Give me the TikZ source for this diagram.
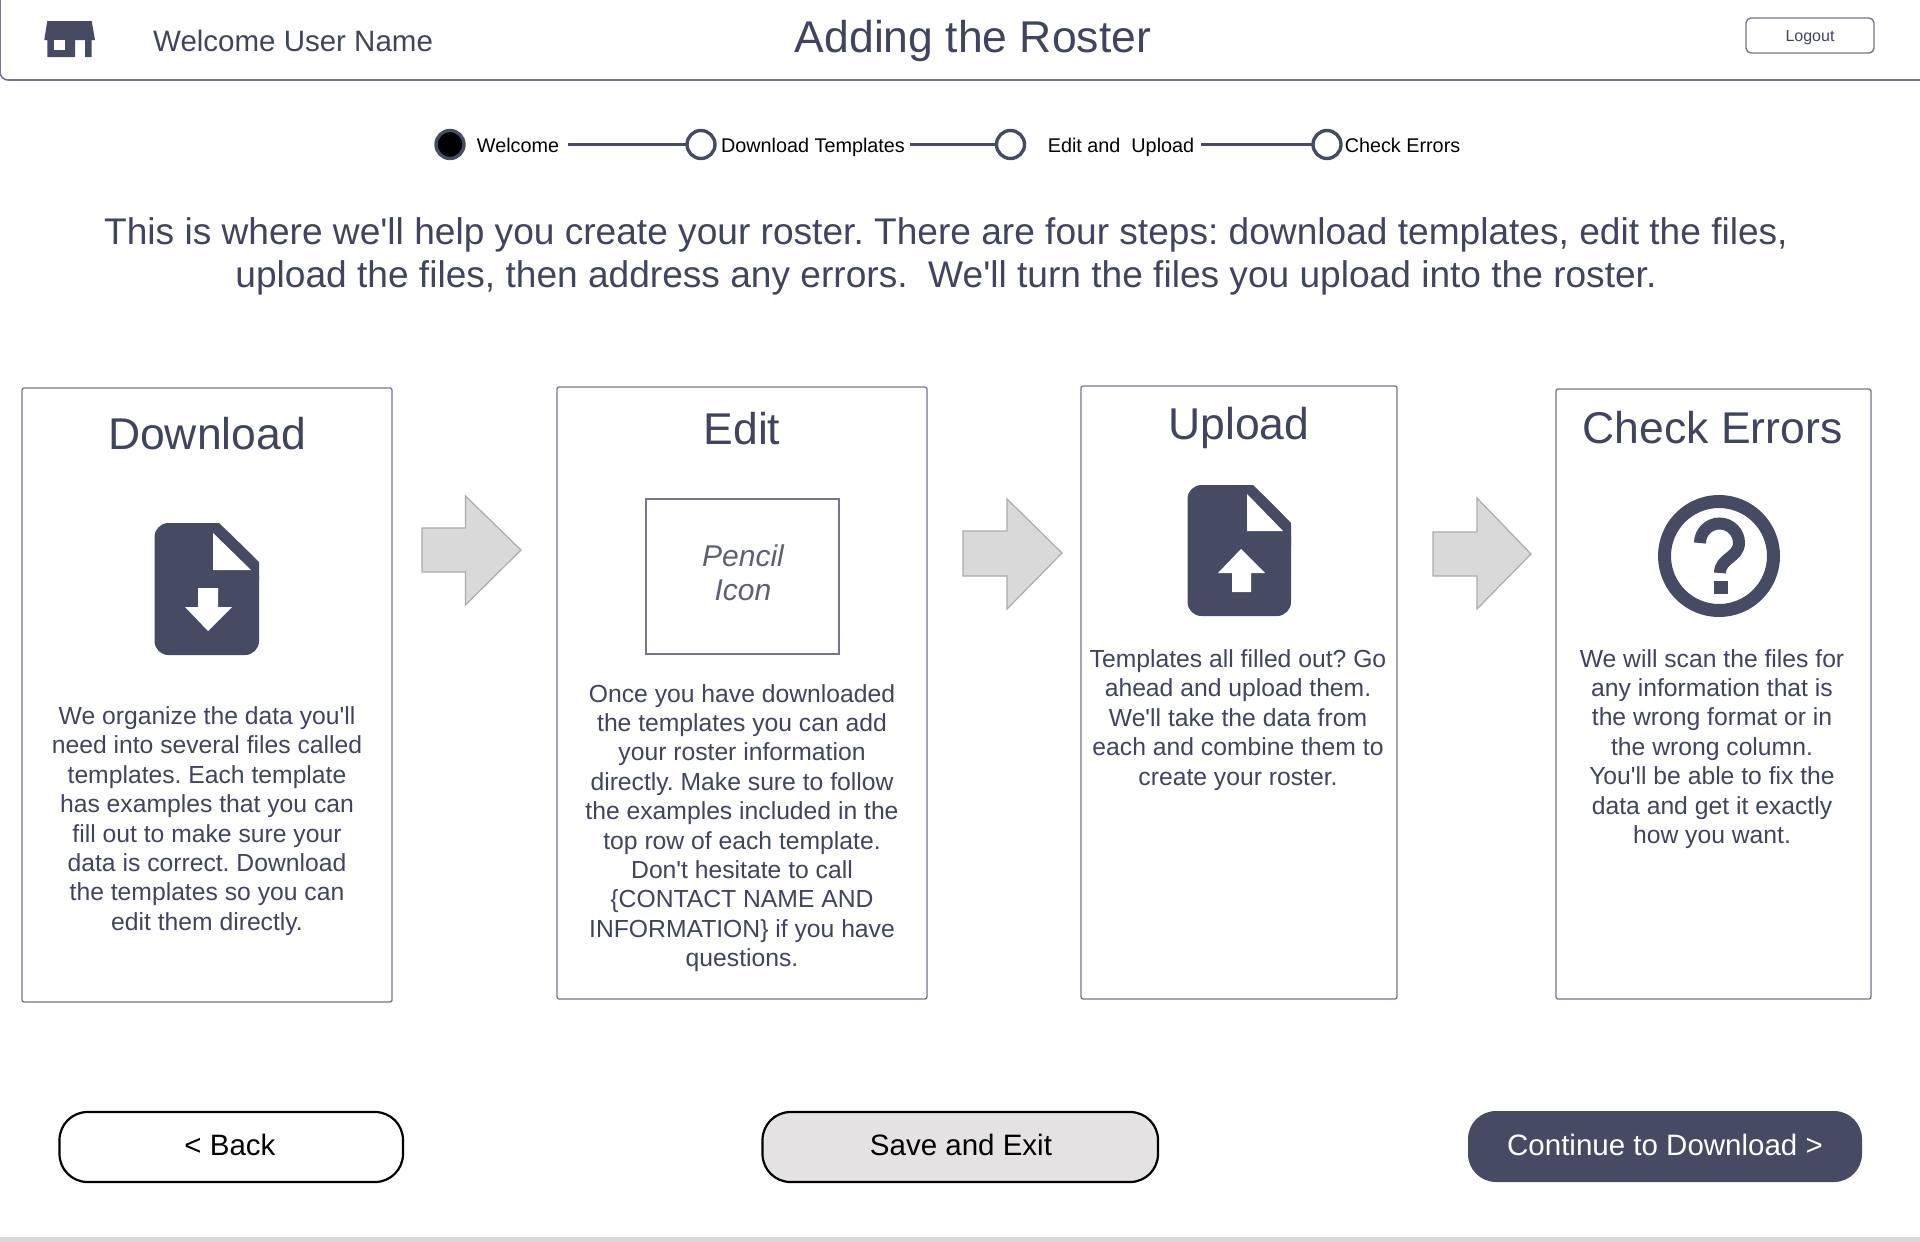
\documentclass[tikz,border=0pt]{standalone}
\usepackage{fontspec}
\setmainfont{Liberation Sans}[Ligatures=TeXOff]
\usetikzlibrary{calc}
\definecolor{slate}{HTML}{464A62}
\definecolor{inktext}{HTML}{40445E}
\definecolor{boxline}{HTML}{73768C}
\definecolor{arrowfill}{HTML}{D9D9D9}
\definecolor{arrowline}{HTML}{ABABAB}
\definecolor{savegrey}{HTML}{E4E2E3}
\definecolor{stripgrey}{HTML}{D9D9D9}
\newcommand{\fsz}[1]{\fontsize{#1pt}{#1pt}\selectfont}
\tikzset{
  panel/.style={draw=boxline,line width=1.3pt,fill=white,rounded corners=2pt},
  paneltitle/.style={text=inktext,font=\fsz{44.5},inner sep=0pt,anchor=base},
  bodytext/.style={text=inktext,font=\fontsize{24.7}{29.4}\selectfont,align=center,inner sep=0pt,anchor=center},
  stepdot/.style={circle,draw=slate,line width=3.4pt,fill=white,minimum size=28pt,inner sep=0pt,outer sep=0pt},
  steplabel/.style={text=black,font=\fsz{19.8},inner sep=0pt,anchor=base},
  stepline/.style={draw=slate,line width=3.2pt},
  flowarrow/.style={draw=arrowline,line width=1.2pt,fill=arrowfill},
  pillbtn/.style={rounded corners=28pt,line width=2.2pt},
  btnlabel/.style={font=\fsz{29.5},inner sep=0pt,anchor=center},
  iconfill/.style={fill=slate,draw=none},
  iconcut/.style={fill=white,draw=none}
}
\begin{document}
\frenchspacing
\begin{tikzpicture}[x=1pt,y=-1pt]
\useasboundingbox (0,0) rectangle (1920,1242);
% header
\draw[draw=boxline,line width=1.6pt,rounded corners=8pt] (0,-20) -- (0,80) -- (1925,80);
\path[iconfill] (47.3,21) -- (91.7,21) -- (95,40) -- (91.7,40) -- (91.7,57) -- (85,57) -- (85,40) -- (75,40) -- (75,57) -- (47.3,57) -- (47.3,40) -- (44.3,40) -- cycle;
\path[iconcut] (54,39.5) rectangle (65,50);
\node[text=inktext,font=\fsz{29.5},inner sep=0pt,anchor=west] (welcome) at (153,41) {Welcome User Name};
\node[text=inktext,font=\fsz{44.5},inner sep=0pt] (title) at (973,40.5) {Adding the Roster};
\node[draw=boxline,line width=1.4pt,rounded corners=5pt,minimum width=128pt,minimum height=35pt,inner sep=0pt,text=inktext,font=\fsz{16},text depth=0pt] (logout) at (1810,35.5) {Logout};
% stepper
\node[stepdot,fill=black] (c1) at (450,144.5) {};
\node[stepdot] (c2) at (701,144.5) {};
\node[stepdot] (c3) at (1010.5,144.5) {};
\node[stepdot] (c4) at (1327,144.5) {};
\node[steplabel] (l1) at (518,152.5) {Welcome};
\node[steplabel] (l2) at (813,152.5) {Download Templates};
\node[steplabel] (l3) at (1121,152.5) {Edit and\ \ Upload};
\node[steplabel] (l4) at (1402.5,152.5) {Check Errors};
\draw[stepline] ($(l1.east |- c2.west)+(9pt,0pt)$) -- (c2.west);
\draw[stepline] ($(l2.east |- c3.west)+(5pt,0pt)$) -- (c3.west);
\draw[stepline] ($(l3.east |- c4.west)+(7pt,0pt)$) -- (c4.west);
% intro
\node[text=inktext,font=\fontsize{37.1}{43}\selectfont,align=center,inner sep=0pt] (intro) at (946,256.5) {This is where we'll help you create your roster. There are four steps: download templates, edit the files,\\upload the files, then address any errors.\ \ We'll turn the files you upload into the roster.};
% panels
\draw[panel] (22,388) rectangle (392,1002);
\draw[panel] (557,387) rectangle (927,999);
\draw[panel] (1081,386) rectangle (1397,999);
\draw[panel] (1556,389) rectangle (1871,999);
\node[paneltitle] (t1) at (207,449.5) {Download};
\node[paneltitle] (t2) at (742,444.5) {Edit};
\node[paneltitle] (t3) at (1239,439.5) {Upload};
\node[paneltitle] (t4) at (1712.5,443.5) {Check Errors};
% download icon
\path[iconfill,rounded corners=14pt] (154.5,523) -- (219,523) -- (259,562) -- (259,655) -- (154.5,655) -- cycle;
\path[iconfill] (200,523) -- (219,523) -- (259,562) -- (259,580) -- (200,580) -- cycle;
\path[iconcut] (213,533) -- (213,570) -- (251,570) -- cycle;
\path[iconcut] (198,588) -- (218,588) -- (218,607) -- (232,607) -- (208,631) -- (185,607) -- (198,607) -- cycle;
% pencil box
\node[draw=boxline,line width=1.2pt,minimum width=193pt,minimum height=155pt,inner sep=0pt] (pencil) at (742.5,576.5) {};
\node[text=inktext!85,font=\fontsize{30}{34}\selectfont\itshape,align=center,inner sep=0pt] (pencillabel) at (743,572.5) {Pencil\\Icon};
% upload icon
\path[iconfill,rounded corners=14pt] (1187.5,485) -- (1253,485) -- (1291,523) -- (1291,616) -- (1187.5,616) -- cycle;
\path[iconfill] (1230,485) -- (1253,485) -- (1291,523) -- (1291,545) -- (1230,545) -- cycle;
\path[iconcut] (1247,494) -- (1247,531) -- (1283,531) -- cycle;
\path[iconcut] (1241,549) -- (1265,573) -- (1251,573) -- (1251,592) -- (1232,592) -- (1232,573) -- (1218,573) -- cycle;
% question icon
\draw[slate,line width=13pt] (1719,556) circle (54.5pt);
\draw[slate,line width=12pt] (1700,543) arc[start angle=180,end angle=0,radius=19.5pt] .. controls (1738.5,558) and (1720,558) .. (1720,573);
\path[iconfill] (1714,581) rectangle (1728,594);
% flow arrows
\draw[flowarrow] (422,528) -- (465.5,528) -- (465.5,496) -- (521,550) -- (465.5,605) -- (465.5,572) -- (422,572) -- cycle;
\draw[flowarrow] (963,531) -- (1007,531) -- (1007,499) -- (1062,553) -- (1007,609) -- (1007,576) -- (963,576) -- cycle;
\draw[flowarrow] (1433,532) -- (1477,532) -- (1477,498) -- (1531,554) -- (1477,609) -- (1477,576) -- (1433,576) -- cycle;
% body
\node[bodytext] (b1) at (207,821) {We organize the data you'll\\need into several files called\\templates. Each template\\has examples that you can\\fill out to make sure your\\data is correct. Download\\the templates so you can\\edit them directly.};
\node[bodytext] (b2) at (742,828) {Once you have downloaded\\the templates you can add\\your roster information\\directly. Make sure to follow\\the examples included in the\\top row of each template.\\Don't hesitate to call\\\{CONTACT NAME AND\\INFORMATION\} if you have\\questions.};
\node[bodytext] (b3) at (1238,720) {Templates all filled out? Go\\ahead and upload them.\\We'll take the data from\\each and combine them to\\create your roster.};
\node[bodytext] (b4) at (1712,749) {We will scan the files for\\any information that is\\the wrong format or in\\the wrong column.\\You'll be able to fix the\\data and get it exactly\\how you want.};
% buttons
\draw[pillbtn,draw=black,fill=white] (59.5,1112) rectangle (403,1182);
\draw[pillbtn,draw=black,fill=savegrey] (762.5,1112) rectangle (1158,1182);
\fill[slate,rounded corners=28pt] (1468,1111) rectangle (1862,1182);
\node[btnlabel,text=black] (back) at (230,1145) {< Back};
\node[btnlabel,text=black] (save) at (961,1145) {Save and Exit};
\node[btnlabel,text=white] (cont) at (1665,1145) {Continue to Download >};
% bottom strip
\fill[stripgrey] (0,1237) rectangle (1920,1242);
\end{tikzpicture}
\end{document}
